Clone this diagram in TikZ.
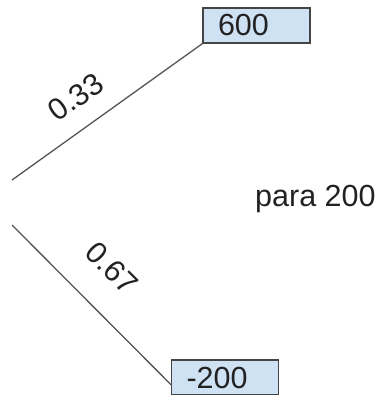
\documentclass[tikz,border=0pt]{standalone}
\usepackage{fontspec}
\setmainfont{Liberation Sans}
\definecolor{boxfill}{HTML}{CFE2F3}
\definecolor{boxline}{HTML}{444444}
\definecolor{edgeline}{HTML}{555555}
\definecolor{txt}{HTML}{222222}
\begin{document}
\begin{tikzpicture}[x=1pt,y=-1pt,
  every node/.style={text=txt,font=\fontsize{30.5}{34}\selectfont},
  valbox/.style={draw=boxline,line width=1.2pt,fill=boxfill,rectangle,
    minimum width=107pt,minimum height=35pt,inner xsep=15pt,inner ysep=0pt,
    text width=77pt,align=left},
  branch/.style={draw=edgeline,line width=1.3pt},
  prob/.style={inner sep=0pt}]
\useasboundingbox (0,0) rectangle (381,395);
\node[valbox] (b600) at (256.5,25.5) {\raisebox{-1.5pt}{600}};
\node[valbox] (b200) at (225,377.5) {\raisebox{-1pt}{-200}};
\node[inner sep=0pt,anchor=base west] (para) at (255,206) {para 200};
\coordinate (s1) at (12,180);
\coordinate (s2) at (12,225);
\draw[branch] (s1) -- (b600.south west);
\draw[branch] (s2) -- ([yshift=11pt]b200.south west);
\node[prob,rotate=35.6] (p1) at (76,97) {0.33};
\node[prob,rotate=-45] (p2) at (112,268) {0.67};
\end{tikzpicture}
\end{document}
